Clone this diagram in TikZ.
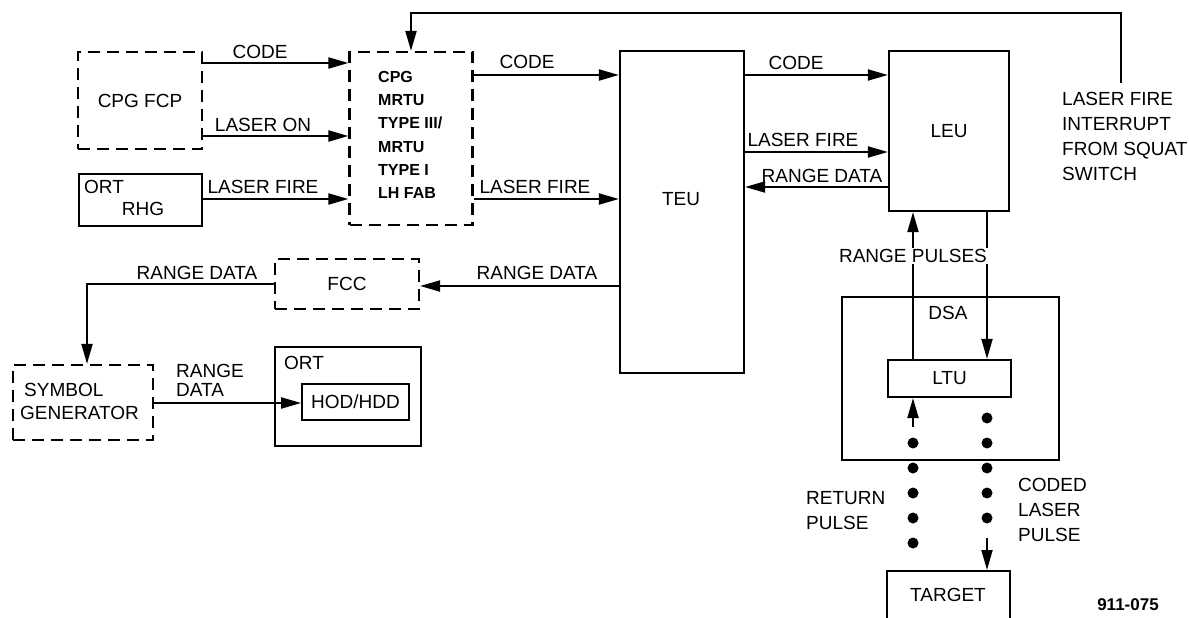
\documentclass[tikz,border=0pt]{standalone}
\usepackage{fontspec}
\setmainfont{Liberation Sans}
\usetikzlibrary{arrows.meta}
\tikzset{
  unit/.style={draw, line width=2.2pt, inner sep=0pt},
  dashunit/.style={unit, dash pattern=on 12pt off 7pt},
  sig/.style={line width=2pt, -{Triangle[length=20pt,width=11pt]}},
}

\begin{document}
\begin{tikzpicture}[x=1pt, y=-1pt, font=\fontsize{19}{21}\selectfont]
\useasboundingbox (0,0) rectangle (1189,618);
\clip (0,0) rectangle (1189,618);

% units
\node[dashunit, minimum width=124pt, minimum height=97pt] (fcp) at (140,100.5) {CPG FCP};
\node[unit, minimum width=123pt, minimum height=52pt] (rhg) at (140.5,200) {};
\node[anchor=west, inner sep=0pt] (rhgort) at (84,187) {ORT};
\node (rhgname) at (143,209) {RHG};
\node[dashunit, minimum width=123pt, minimum height=173pt] (mrtu) at (411,138.5) {};
\node[anchor=west, align=left, inner sep=0pt, font=\fontsize{16}{23.2}\selectfont\bfseries] (mrtutxt) at (378,135)
  {CPG\\MRTU\\TYPE III/\\MRTU\\TYPE I\\LH FAB};
\node[unit, minimum width=124pt, minimum height=322pt] (teu) at (682,212) {};
\node (teutxt) at (681,199) {TEU};
\node[unit, minimum width=120pt, minimum height=160pt] (leu) at (949,131) {LEU};
\node[dashunit, minimum width=144pt, minimum height=50pt] (fcc) at (347,284) {FCC};
\node[dashunit, minimum width=140pt, minimum height=75pt] (symgen) at (83,402.5) {};
\node[anchor=west, align=left, inner sep=0pt, font=\fontsize{19}{23}\selectfont] (symtxt) at (20,401.5)
  {\hspace{4pt}SYMBOL\\GENERATOR};
\node[unit, minimum width=146pt, minimum height=99pt] (ort) at (348,396.5) {};
\node[anchor=west, inner sep=0pt] (orttxt) at (284,363) {ORT};
\node[unit, line width=1.7pt, minimum width=107pt, minimum height=36pt] (hod) at (355.5,402) {HOD/HDD};
\node[unit, minimum width=217pt, minimum height=163pt] (dsa) at (950.5,378.5) {};
\node (dsatxt) at (948,313) {DSA};
\node[unit, minimum width=123pt, minimum height=37pt] (ltu) at (949.5,378.5) {LTU};
\node[unit, minimum width=123pt, minimum height=80pt, anchor=north] (target) at (948.5,570) {};
\node (targettxt) at (948,595) {TARGET};

% signals
\draw[sig] (fcp.east |- 0,63) -- (mrtu.west |- 0,63);
\node (fcpcode) at (260,52) {CODE};
\draw[sig] (fcp.east |- 0,136) -- (mrtu.west |- 0,136);
\node (fcpon) at (263,125) {LASER ON};
\draw[sig] (rhg.east |- 0,199) -- (mrtu.west |- 0,199);
\node (rhgfire) at (263,187) {LASER FIRE};
\draw[sig] (mrtu.east |- 0,75) -- (teu.west |- 0,75);
\node (mrtucode) at (527,62) {CODE};
\draw[sig] (mrtu.east |- 0,199) -- (teu.west |- 0,199);
\node (mrtufire) at (535,187) {LASER FIRE};
\draw[sig] (teu.east |- 0,75) -- (leu.west |- 0,75);
\node (teucode) at (796,63) {CODE};
\draw[sig] (teu.east |- 0,152) -- (leu.west |- 0,152);
\node (teufire) at (803,140) {LASER FIRE};
\draw[sig] (leu.west |- 0,187) -- (teu.east |- 0,187);
\node (leurange) at (822,176) {RANGE DATA};

% squat switch interrupt
\coordinate (squat) at (1121,83);
\draw[sig] (squat) |- (mrtu.north |- 0,13) -- (mrtu.north);
\node[anchor=west, align=left, inner sep=0pt, font=\fontsize{19}{25}\selectfont] (squattxt) at (1062,136.5)
  {LASER FIRE\\INTERRUPT\\FROM SQUAT\\SWITCH};

% range data to displays
\draw[sig] (teu.west |- 0,286) -- (fcc.east |- 0,286);
\node (teurange) at (537,273) {RANGE DATA};
\draw[sig] (fcc.west |- 0,284) -| (symgen.north -| 87,0);
\node (fccrange) at (197,273) {RANGE DATA};
\draw[sig] (symgen.east |- 0,403) -- (hod.west |- 0,403);
\node[anchor=west, align=left, inner sep=0pt, font=\fontsize{19}{19}\selectfont] (symrange) at (176,380.5) {RANGE\\DATA};

% designator
\draw[sig] (ltu.north -| 913,0) -- (leu.south -| 913,0);
\draw[sig] (leu.south -| 987,0) -- (ltu.north -| 987,0);
\node[fill=white, inner sep=1pt] (pulsetxt) at (913,256) {RANGE PULSES};

\coordinate (retstart) at (913,427);
\draw[sig] (retstart) -- (ltu.south -| retstart);
\foreach \y in {443,468,493,518,543} \fill (913,\y) circle (5.5pt);
\coordinate (codedstart) at (987,538);
\draw[sig] (codedstart) -- (target.north -| codedstart);
\foreach \y in {418,443,468,493,518} \fill (987,\y) circle (5.5pt);

\node[anchor=west, align=left, inner sep=0pt, font=\fontsize{19}{25}\selectfont] (rettxt) at (806,510.5) {RETURN\\PULSE};
\node[anchor=west, align=left, inner sep=0pt, font=\fontsize{19}{25}\selectfont] (codedtxt) at (1018,510) {CODED\\LASER\\PULSE};
\node[font=\fontsize{17}{20}\selectfont\bfseries] (fignum) at (1128,605) {911-075};
\end{tikzpicture}
\end{document}
